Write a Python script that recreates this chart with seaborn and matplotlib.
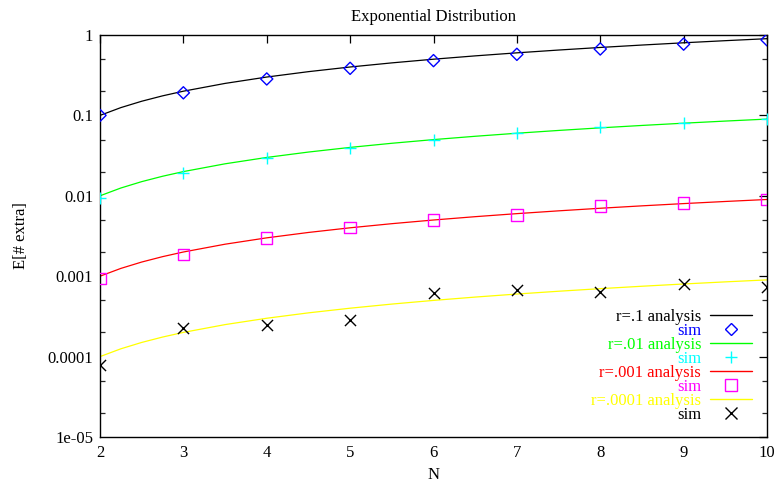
import matplotlib
matplotlib.use("Agg")
import matplotlib.pyplot as plt
import seaborn as sns
import numpy as np
import pandas as pd
from matplotlib.lines import Line2D
from matplotlib.ticker import LogLocator, FixedLocator, FuncFormatter

sns.set_theme(style="white")
plt.rcParams['font.family'] = ['Liberation Serif', 'DejaVu Serif']

# ---------------- data ----------------
title = "Exponential Distribution"
xlabel = "N"
ylabel = "E[# extra]"

n_curve = [2, 2.25, 2.5, 2.75, 3, 3.5, 4, 4.5, 5, 5.5, 6, 6.5, 7, 7.5, 8, 8.5, 9, 9.5, 10]
ana_r1 = [0.10, 0.125, 0.15, 0.175, 0.20, 0.25, 0.30, 0.35, 0.40, 0.45, 0.50, 0.55, 0.60, 0.65, 0.70, 0.75, 0.80, 0.85, 0.90]
ana_r01 = [0.010, 0.0125, 0.015, 0.0175, 0.020, 0.025, 0.030, 0.035, 0.040, 0.045, 0.050, 0.055, 0.060, 0.065, 0.070, 0.075, 0.080, 0.085, 0.090]
ana_r001 = [0.0010, 0.00125, 0.0015, 0.00175, 0.0020, 0.0025, 0.0030, 0.0035, 0.0040, 0.0045, 0.0050, 0.0055, 0.0060, 0.0065, 0.0070, 0.0075, 0.0080, 0.0085, 0.0090]
ana_r0001 = [0.00010, 0.000125, 0.00015, 0.000175, 0.00020, 0.00025, 0.00030, 0.00035, 0.00040, 0.00045, 0.00050, 0.00055, 0.00060, 0.00065, 0.00070, 0.00075, 0.00080, 0.00085, 0.00090]

n_sim = [2, 3, 4, 5, 6, 7, 8, 9, 10]
sim_r1 = [0.100, 0.191, 0.284, 0.385, 0.480, 0.575, 0.670, 0.770, 0.870]
sim_r01 = [0.0093, 0.0194, 0.0298, 0.039, 0.049, 0.060, 0.071, 0.081, 0.089]
sim_r001 = [0.00094, 0.00187, 0.0030, 0.00405, 0.0050, 0.00577, 0.00746, 0.0081, 0.0090]
sim_r0001 = [0.000079, 0.000225, 0.000247, 0.000285, 0.00061, 0.00067, 0.00063, 0.00079, 0.00074]

labels = ["r=.1 analysis", "sim", "r=.01 analysis", "sim",
          "r=.001 analysis", "sim", "r=.0001 analysis", "sim"]
x_ticks = [2, 3, 4, 5, 6, 7, 8, 9, 10]
y_ticks = [1e-5, 1e-4, 1e-3, 1e-2, 1e-1, 1]
y_tick_labels = ["1e-05", "0.0001", "0.001", "0.01", "0.1", "1"]

# ---------------- figure ----------------
fig = plt.figure(figsize=(7.78, 4.83), dpi=100)
ax = fig.add_axes([100/778, 46/483, 667/778, 402/483])

line_specs = [(ana_r1, "#000000"), (ana_r01, "#00ff00"), (ana_r001, "#ff0000"), (ana_r0001, "#ffff00")]
sim_specs = [
    (sim_r1, "#0000ff", "D", 6.2, True),
    (sim_r01, "#00ffff", "+", 8.8, False),
    (sim_r001, "#ff00ff", "s", 8.2, True),
    (sim_r0001, "#000000", "x", 8.0, False),
]

for ys, c in line_specs:
    sns.lineplot(x=n_curve, y=ys, ax=ax, color=c, linewidth=0.9, zorder=2)

for ys, c, m, ms, hollow in sim_specs:
    df = pd.DataFrame({"N": n_sim, "v": ys})
    if hollow:
        sns.scatterplot(data=df, x="N", y="v", ax=ax, marker=m, s=ms**2,
                        facecolors="none", edgecolor=c, linewidth=1.0, zorder=3)
    else:
        sns.scatterplot(data=df, x="N", y="v", ax=ax, marker=m, s=ms**2,
                        color=c, linewidth=1.0, zorder=3)

ax.set_yscale("log")
ax.set_xlim(2, 10)
ax.set_ylim(1e-5, 1)
ax.xaxis.set_major_locator(FixedLocator(x_ticks))
ax.set_xticklabels([str(t) for t in x_ticks])
ax.yaxis.set_major_locator(FixedLocator(y_ticks))
ax.set_yticklabels(y_tick_labels)
ax.yaxis.set_minor_locator(LogLocator(base=10, subs=(2.0, 5.0)))
ax.yaxis.set_minor_formatter(FuncFormatter(lambda v, p: ""))

ax.tick_params(axis="both", which="major", direction="in", length=6, width=0.9,
               top=True, right=True, labelsize=12, colors="black", pad=5)
ax.tick_params(axis="both", which="minor", direction="in", length=3.5, width=0.9,
               top=True, right=True, left=True)
ax.tick_params(axis="x", which="major", pad=6)
for s in ax.spines.values():
    s.set_color("black")
    s.set_linewidth(1.0)
    s.set_visible(True)

ax.set_title(title, fontsize=12, pad=10, color="black")
ax.set_xlabel(xlabel, fontsize=12, labelpad=4, color="black")
ax.set_ylabel(ylabel, fontsize=12, labelpad=13, color="black")

handles = []
for i in range(4):
    handles.append(Line2D([], [], color=line_specs[i][1], linewidth=1.0))
    ys, c, m, ms, hollow = sim_specs[i]
    if hollow:
        handles.append(Line2D([], [], linestyle="none", marker=m, markersize=ms,
                              markerfacecolor="none", markeredgecolor=c, markeredgewidth=1.0))
    else:
        handles.append(Line2D([], [], linestyle="none", marker=m, markersize=ms,
                              color=c, markeredgewidth=1.0))
text_colors = ["#000000", "#0000ff", "#00ff00", "#00ffff", "#ff0000", "#ff00ff", "#ffff00", "#000000"]

leg = ax.legend(handles, labels, loc="lower right", bbox_to_anchor=(0.9775, 0.035),
                frameon=False, markerfirst=False, fontsize=12, labelspacing=-0.12,
                handlelength=2.5, handletextpad=0.55, borderpad=0, borderaxespad=0,
                labelcolor=text_colors)

fig.savefig("out.png", dpi=100, facecolor="white")
